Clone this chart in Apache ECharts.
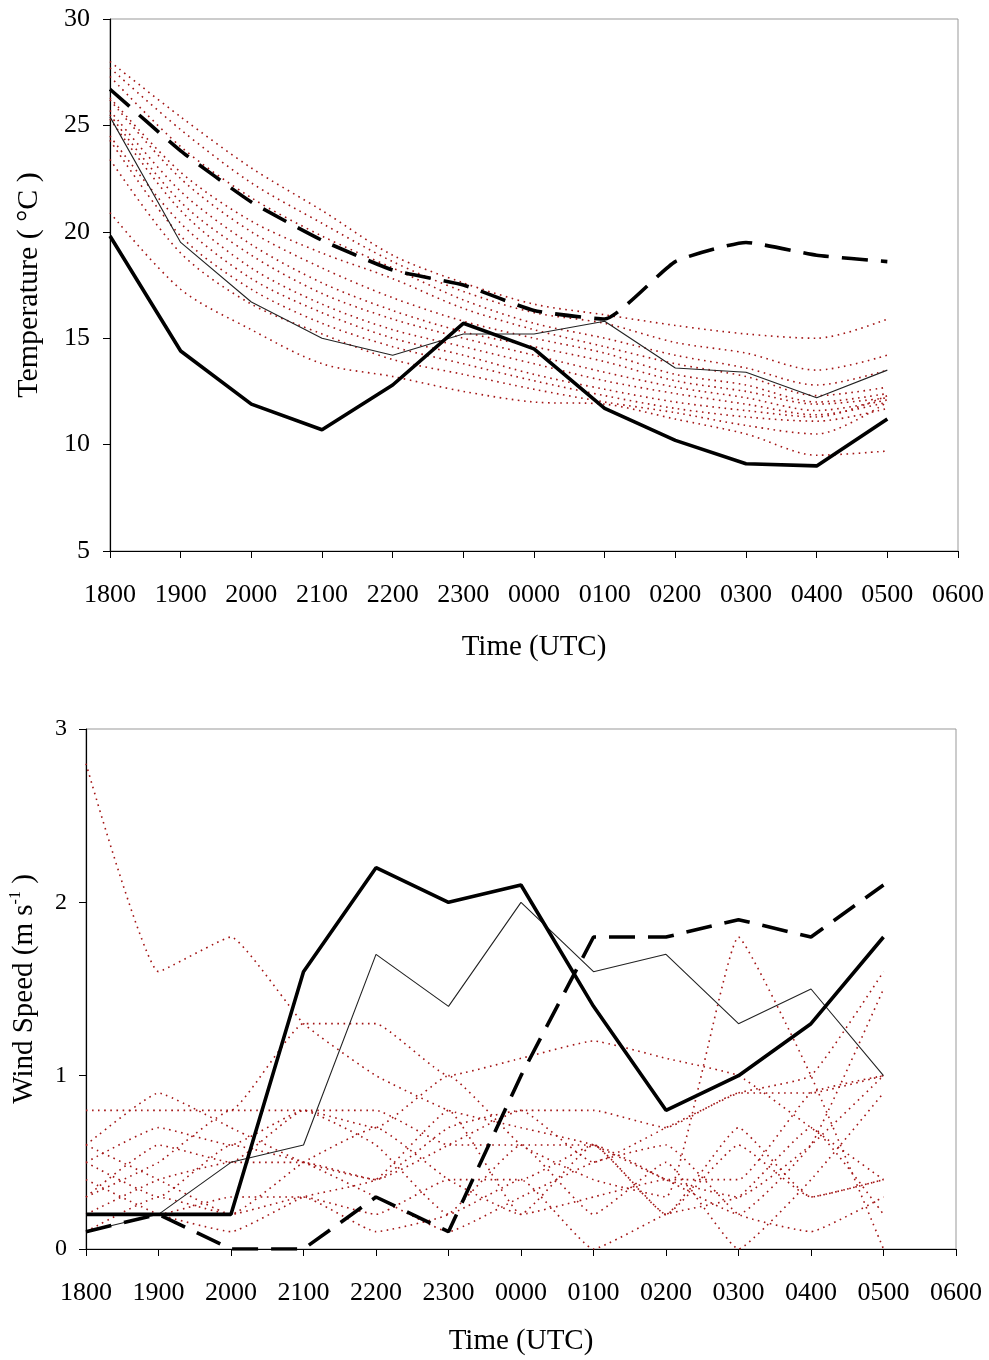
<!DOCTYPE html>
<html>
<head>
<meta charset="utf-8">
<script src="https://cdn.jsdelivr.net/npm/echarts@6/dist/echarts.min.js"></script>
<style>
html,body{margin:0;padding:0;background:#fff;}
#chart{width:989px;height:1360px;}
</style>
</head>
<body>
<div id="chart"></div>
<script>
// ---- Data ----
const timeLabels = ['1800','1900','2000','2100','2200','2300','0000','0100','0200','0300','0400','0500','0600'];

// Temperature (°C)
const tempThick  = [19.8, 14.4, 11.9, 10.7, 12.8, 15.7, 14.5, 11.7, 10.2, 9.1, 9.0, 11.2];
const tempDashed = [26.7, 23.8, 21.4, 19.6, 18.2, 17.5, 16.3, 15.9, 18.6, 19.5, 18.9, 18.6];
const tempThin   = [25.4, 19.5, 16.7, 15.0, 14.2, 15.2, 15.2, 15.8, 13.6, 13.4, 12.2, 13.5];
const tempR1  = [28.0, 25.4, 23.0, 21.0, 18.9, 17.6, 16.6, 16.1, 15.6, 15.2, 15.0, 15.9];
const tempR2  = [27.7, 24.8, 22.3, 20.4, 18.6, 17.2, 16.2, 15.7, 14.8, 14.3, 13.5, 14.2];
const tempR3  = [27.3, 24.0, 21.6, 19.8, 18.3, 16.8, 15.7, 15.0, 14.2, 13.6, 12.8, 13.5];
const tempR4  = [26.3, 22.8, 20.5, 19.0, 17.8, 16.4, 15.4, 14.6, 13.8, 13.2, 12.3, 12.7];
const tempR5  = [26.2, 22.5, 20.0, 18.3, 16.9, 15.8, 15.0, 14.3, 13.3, 12.8, 12.0, 12.4];
const tempR6  = [25.7, 21.9, 19.4, 17.6, 16.3, 15.3, 14.6, 13.9, 13.0, 12.5, 11.9, 12.2];
const tempR7  = [25.5, 21.4, 18.9, 17.1, 15.9, 15.0, 14.2, 13.4, 12.7, 12.2, 11.6, 12.1];
const tempR8  = [25.3, 21.0, 18.3, 16.6, 15.4, 14.6, 13.8, 13.0, 12.4, 11.9, 11.4, 12.0];
const tempR9  = [24.5, 20.4, 17.8, 16.2, 15.0, 14.2, 13.3, 12.6, 12.0, 11.6, 11.3, 12.3];
const tempR10 = [24.3, 19.8, 17.3, 15.7, 14.6, 13.8, 13.0, 12.3, 11.7, 11.3, 11.1, 11.7];
const tempR11 = [23.4, 19.0, 16.6, 15.2, 14.0, 13.3, 12.6, 12.0, 11.5, 10.9, 10.5, 12.0];
const tempR12 = [20.9, 17.3, 15.4, 13.8, 13.2, 12.5, 12.0, 11.9, 11.2, 10.5, 9.5, 9.7];
const tempReds = [tempR1,tempR2,tempR3,tempR4,tempR5,tempR6,tempR7,tempR8,tempR9,tempR10,tempR11,tempR12];

// Wind speed (m s-1)
const windThick  = [0.2, 0.2, 0.2, 1.6, 2.2, 2.0, 2.1, 1.4, 0.8, 1.0, 1.3, 1.8];
const windDashed = [0.1, 0.2, 0.0, 0.0, 0.3, 0.1, 1.0, 1.8, 1.8, 1.9, 1.8, 2.1];
const windThin   = [0.1, 0.2, 0.5, 0.6, 1.7, 1.4, 2.0, 1.6, 1.7, 1.3, 1.5, 1.0];
const windR1  = [2.8, 1.6, 1.8, 1.3, 1.0, 0.8, 0.7, 0.6, 0.4, 0.3, 0.6, 1.0];
const windR2  = [0.8, 0.8, 0.8, 1.3, 1.3, 1.0, 1.1, 1.2, 1.1, 1.0, 0.7, 0.4];
const windR3  = [0.6, 0.9, 0.7, 0.5, 0.4, 0.7, 0.8, 0.8, 0.7, 0.9, 0.9, 1.0];
const windR4  = [0.5, 0.7, 0.6, 0.8, 0.7, 1.0, 0.6, 0.4, 0.3, 1.8, 1.0, 0.0];
const windR5  = [0.3, 0.5, 0.8, 0.8, 0.8, 0.6, 0.6, 0.6, 0.4, 0.2, 0.6, 1.5];
const windR6  = [0.2, 0.4, 0.5, 0.5, 0.4, 0.6, 0.8, 0.5, 0.7, 0.9, 1.0, 1.6];
const windR7  = [0.1, 0.3, 0.2, 0.3, 0.2, 0.4, 0.4, 0.6, 0.2, 0.7, 0.3, 0.4];
const windR8  = [0.6, 0.4, 0.2, 0.5, 0.7, 0.4, 0.2, 0.3, 0.4, 0.4, 0.9, 1.0];
const windR9  = [0.3, 0.6, 0.5, 0.8, 0.6, 0.2, 0.4, 0.0, 0.2, 0.3, 0.7, 0.2];
const windR10 = [0.2, 0.2, 0.3, 0.3, 0.1, 0.2, 0.6, 0.2, 0.5, 0.0, 0.4, 0.9];
const windR11 = [0.4, 0.2, 0.1, 0.3, 0.4, 0.8, 0.2, 0.6, 0.2, 0.6, 0.3, 0.4];
const windR12 = [0.5, 0.3, 0.6, 0.5, 0.3, 0.1, 0.3, 0.5, 0.6, 0.2, 0.1, 0.3];
const windReds = [windR1,windR2,windR3,windR4,windR5,windR6,windR7,windR8,windR9,windR10,windR11,windR12];

// ---- Styles ----
const FONT = "'Liberation Serif','Times New Roman',serif";
const RED = '#a31515';

function redSeries(arr, idx, smooth) {
  return arr.map(d => ({
    type: 'line', xAxisIndex: idx, yAxisIndex: idx, data: d,
    symbol: 'none', smooth: smooth, silent: true,
    lineStyle: { color: RED, width: 1.6, type: [1.6, 4.5] }
  }));
}
function blackSeries(d, idx, kind, smooth) {
  const ls = kind === 'thick' ? { color: '#000', width: 3.6, type: 'solid' }
           : kind === 'dashed' ? { color: '#000', width: 3.6, type: [26, 13] }
           : { color: '#222', width: 1.1, type: 'solid' };
  return { type: 'line', xAxisIndex: idx, yAxisIndex: idx, data: d, symbol: 'none',
           smooth: smooth, silent: true, lineStyle: ls, z: 5 };
}

function xAxisCfg(idx, nameGap) {
  return {
    type: 'category', gridIndex: idx, data: timeLabels, boundaryGap: false,
    name: 'Time (UTC)', nameLocation: 'middle', nameGap: nameGap,
    nameTextStyle: { fontFamily: FONT, fontSize: 29, color: '#000' },
    axisLine: { lineStyle: { color: '#000', width: 1.2 } },
    axisTick: { show: true, length: 7, alignWithLabel: true, lineStyle: { color: '#000' }, interval: 0 },
    axisLabel: { interval: 0, margin: 31, fontFamily: FONT, fontSize: 26, color: '#000' },
    splitLine: { show: false }
  };
}

const option = {
  backgroundColor: '#fff',
  animation: false,
  grid: [
    { left: 110, right: 31, top: 19, height: 532, show: true, borderColor: '#999', borderWidth: 1, containLabel: false },
    { left: 86, right: 33, top: 729, height: 520, show: true, borderColor: '#999', borderWidth: 1, containLabel: false }
  ],
  xAxis: [ xAxisCfg(0, 82), xAxisCfg(1, 78) ],
  yAxis: [
    {
      type: 'value', gridIndex: 0, min: 5, max: 30, interval: 5,
      name: 'Temperature ( °C )', nameLocation: 'middle', nameGap: 66, nameRotate: 90,
      nameTextStyle: { fontFamily: FONT, fontSize: 30, color: '#000' },
      axisLine: { show: true, lineStyle: { color: '#000', width: 1.2 } },
      axisTick: { show: true, length: 7, lineStyle: { color: '#000' } },
      axisLabel: { margin: 20, fontFamily: FONT, fontSize: 26, color: '#000' },
      splitLine: { show: false }
    },
    {
      type: 'value', gridIndex: 1, min: 0, max: 3, interval: 1,
      name: '{a|Wind Speed (m s}{s|-1}{a| )}', nameLocation: 'middle', nameGap: 46, nameRotate: 90,
      nameTextStyle: { fontFamily: FONT, fontSize: 29, color: '#000',
        rich: {
          a: { fontFamily: FONT, fontSize: 29, color: '#000', lineHeight: 32 },
          s: { fontFamily: FONT, fontSize: 16, color: '#000', verticalAlign: 'top', lineHeight: 32 }
        } },
      axisLine: { show: true, lineStyle: { color: '#000', width: 1.2 } },
      axisTick: { show: true, length: 7, lineStyle: { color: '#000' } },
      axisLabel: { margin: 19, fontFamily: FONT, fontSize: 24, color: '#000' },
      splitLine: { show: false }
    }
  ],
  series: [].concat(
    redSeries(tempReds, 0, 0.3),
    [ blackSeries(tempThin, 0, 'thin', false),
      blackSeries(tempDashed, 0, 'dashed', 0.15),
      blackSeries(tempThick, 0, 'thick', false) ],
    redSeries(windReds, 1, 0.12),
    [ blackSeries(windThin, 1, 'thin', false),
      blackSeries(windDashed, 1, 'dashed', false),
      blackSeries(windThick, 1, 'thick', false) ]
  )
};

const chart = echarts.init(document.getElementById('chart'), null, { renderer: 'canvas' });
chart.setOption(option);
</script>
</body>
</html>
